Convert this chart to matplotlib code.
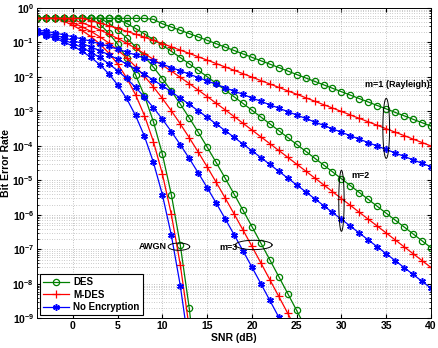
import matplotlib
matplotlib.use("Agg")
import matplotlib.pyplot as plt
import numpy as np
from matplotlib.ticker import FixedLocator, NullFormatter

plt.rcParams['font.family'] = ['Liberation Sans', 'DejaVu Sans']
plt.rcParams['font.weight'] = 'bold'
plt.rcParams['mathtext.fontset'] = 'custom'
plt.rcParams['mathtext.rm'] = 'Liberation Sans:bold'
plt.rcParams['mathtext.bf'] = 'Liberation Sans:bold'
plt.rcParams['mathtext.default'] = 'bf'

# ---- data ----
snr_awgn = list(range(-4, 15))
noenc_awgn = [0.186, 0.158, 0.131, 0.104, 0.0786, 0.0563, 0.0375, 0.0229, 0.0125, 5.95e-3,
              2.39e-3, 7.73e-4, 1.91e-4, 3.36e-5, 3.87e-6, 2.61e-7, 9.0e-9, 1.33e-10, 6.8e-13]
mdes_awgn = [0.5, 0.5, 0.5, 0.415, 0.314, 0.225, 0.150, 0.0916, 0.050, 0.0238,
             9.56e-3, 3.09e-3, 7.64e-4, 1.34e-4, 1.55e-5, 1.04e-6, 3.6e-8, 5.3e-10, 2.7e-12]
des_awgn = [0.5, 0.5, 0.5, 0.5, 0.5, 0.5, 0.5, 0.344, 0.188, 0.0893,
            0.0359, 0.0116, 2.87e-3, 5.04e-4, 5.8e-5, 3.9e-6, 1.35e-7, 2.0e-9, 1.0e-11]

snr_m3 = list(range(-4, 27))
noenc_m3 = [0.197, 0.170, 0.144, 0.118, 0.0938, 0.0718, 0.0527, 0.0368, 0.0244, 0.0153,
            9.05e-3, 5.03e-3, 2.62e-3, 1.29e-3, 5.97e-4, 2.62e-4, 1.09e-4, 4.36e-5, 1.67e-5,
            6.20e-6, 2.24e-6, 7.86e-7, 2.71e-7, 9.21e-8, 3.07e-8, 1.02e-8, 3.33e-9, 1.09e-9,
            3.51e-10, 1.13e-10, 3.6e-11]
mdes_m3 = [0.5, 0.5, 0.5, 0.472, 0.375, 0.287, 0.211, 0.147, 0.0978, 0.0613,
           0.0362, 0.0201, 0.0105, 5.15e-3, 2.39e-3, 1.05e-3, 4.37e-4, 1.74e-4, 6.69e-5,
           2.48e-5, 8.94e-6, 3.14e-6, 1.08e-6, 3.68e-7, 1.23e-7, 4.07e-8, 1.33e-8, 4.34e-9,
           1.41e-9, 4.5e-10, 1.45e-10]
des_m3 = [0.5, 0.5, 0.5, 0.5, 0.5, 0.5, 0.5, 0.5, 0.367, 0.230,
          0.136, 0.0754, 0.0394, 0.0193, 8.95e-3, 3.93e-3, 1.64e-3, 6.54e-4, 2.51e-4,
          9.30e-5, 3.35e-5, 1.18e-5, 4.07e-6, 1.38e-6, 4.61e-7, 1.53e-7, 5.0e-8, 1.63e-8,
          5.27e-9, 1.70e-9, 5.4e-10]

snr_m2 = list(range(-4, 41))
noenc_m2 = [0.211, 0.187, 0.162, 0.138, 0.115, 0.0939, 0.0748, 0.0582, 0.0442, 0.0329,
            0.0239, 0.0170, 0.0119, 8.16e-3, 5.53e-3, 3.70e-3, 2.45e-3, 1.61e-3, 1.05e-3,
            6.77e-4, 4.36e-4, 2.80e-4, 1.79e-4, 1.14e-4, 7.26e-5, 4.61e-5, 2.92e-5, 1.85e-5,
            1.17e-5, 7.42e-6, 4.69e-6, 2.97e-6, 1.87e-6, 1.18e-6, 7.48e-7, 4.72e-7, 2.98e-7,
            1.88e-7, 1.19e-7, 7.49e-8, 4.73e-8, 2.98e-8, 1.88e-8, 1.19e-8, 7.50e-9]
mdes_m2 = [0.5, 0.5, 0.5, 0.5, 0.460, 0.376, 0.299, 0.233, 0.177, 0.131,
           0.0955, 0.0680, 0.0475, 0.0326, 0.0221, 0.0148, 9.79e-3, 6.42e-3, 4.18e-3,
           2.71e-3, 1.74e-3, 1.12e-3, 7.15e-4, 4.56e-4, 2.90e-4, 1.84e-4, 1.17e-4, 7.41e-5,
           4.69e-5, 2.97e-5, 1.88e-5, 1.19e-5, 7.50e-6, 4.73e-6, 2.99e-6, 1.89e-6, 1.19e-6,
           7.52e-7, 4.75e-7, 3.00e-7, 1.89e-7, 1.19e-7, 7.53e-8, 4.75e-8, 3.0e-8]
des_m2 = [0.5, 0.5, 0.5, 0.5, 0.5, 0.5, 0.5, 0.5, 0.5, 0.49,
          0.358, 0.255, 0.178, 0.122, 0.0829, 0.0555, 0.0367, 0.0241, 0.0157,
          0.0102, 6.54e-3, 4.20e-3, 2.68e-3, 1.71e-3, 1.09e-3, 6.91e-4, 4.39e-4, 2.78e-4,
          1.76e-4, 1.11e-4, 7.04e-5, 4.45e-5, 2.81e-5, 1.78e-5, 1.12e-5, 7.08e-6, 4.47e-6,
          2.82e-6, 1.78e-6, 1.12e-6, 7.09e-7, 4.48e-7, 2.82e-7, 1.78e-7, 1.12e-7]

snr_m1 = list(range(-4, 41))
noenc_m1 = [0.233, 0.211, 0.189, 0.167, 0.146, 0.127, 0.109, 0.0919, 0.0771, 0.0642,
            0.0530, 0.0435, 0.0355, 0.0288, 0.0233, 0.0188, 0.0151, 0.0121, 9.66e-3,
            7.72e-3, 6.16e-3, 4.91e-3, 3.92e-3, 3.12e-3, 2.48e-3, 1.97e-3, 1.57e-3, 1.25e-3,
            9.92e-4, 7.89e-4, 6.27e-4, 4.98e-4, 3.96e-4, 3.14e-4, 2.50e-4, 1.98e-4, 1.58e-4,
            1.25e-4, 9.95e-5, 7.90e-5, 6.28e-5, 4.99e-5, 3.96e-5, 3.15e-5, 2.50e-5]
mdes_m1 = [0.5, 0.5, 0.5, 0.5, 0.5, 0.5, 0.434, 0.368, 0.308, 0.257,
           0.212, 0.174, 0.142, 0.115, 0.0932, 0.0750, 0.0603, 0.0483, 0.0386,
           0.0309, 0.0246, 0.0196, 0.0157, 0.0125, 9.92e-3, 7.88e-3, 6.28e-3, 5.0e-3,
           3.97e-3, 3.16e-3, 2.51e-3, 1.99e-3, 1.58e-3, 1.26e-3, 1.0e-3, 7.94e-4, 6.30e-4,
           5.01e-4, 3.98e-4, 3.16e-4, 2.51e-4, 2.0e-4, 1.58e-4, 1.26e-4, 1.0e-4]
des_m1 = [0.5, 0.5, 0.5, 0.5, 0.5, 0.5, 0.5, 0.5, 0.5, 0.5,
          0.5, 0.5, 0.5, 0.47, 0.349, 0.281, 0.226, 0.181, 0.145,
          0.116, 0.0924, 0.0737, 0.0588, 0.0468, 0.0372, 0.0296, 0.0236, 0.0188,
          0.0149, 0.0118, 9.4e-3, 7.47e-3, 5.94e-3, 4.71e-3, 3.75e-3, 2.98e-3, 2.36e-3,
          1.88e-3, 1.49e-3, 1.19e-3, 9.42e-4, 7.49e-4, 5.94e-4, 4.73e-4, 3.75e-4]

legend_labels = ['DES', 'M-DES', 'No Encryption']
x_ticks = [0, 5, 10, 15, 20, 25, 30, 35, 40]
y_exponents = [-9, -8, -7, -6, -5, -4, -3, -2, -1, 0]

# annotations: text, text position (dB, BER), alignment
notes = [('AWGN', 10.5, 1.2e-7, 'right'),
         ('m=3', 18.4, 1.15e-7, 'right'),
         ('m=2', 31.1, 1.35e-5, 'left'),
         ('m=1 (Rayleigh)', 39.9, 5.9e-3, 'right')]
# ellipses: centre dB, centre log10(BER), width dB, height decades
ellipses = [(11.85, -6.92, 2.4, 0.21),
            (20.2, -6.87, 4.1, 0.27),
            (30.0, -5.59, 0.6, 1.77),
            (35.0, -3.49, 0.75, 1.74)]

GREEN = '#008000'
RED = '#ff0000'
BLUE = '#0000ff'

fig = plt.figure(figsize=(4.38, 3.48), dpi=100)
ax = fig.add_axes([0.0845, 0.085, 0.8995, 0.892])

groups = [(snr_awgn, des_awgn, mdes_awgn, noenc_awgn),
          (snr_m3, des_m3, mdes_m3, noenc_m3),
          (snr_m2, des_m2, mdes_m2, noenc_m2),
          (snr_m1, des_m1, mdes_m1, noenc_m1)]

for i, (snr, des, mdes, ne) in enumerate(groups):
    ax.plot(snr, des, color=GREEN, marker='o', mfc='none', ms=4.5, mew=0.9, lw=0.9,
            label=legend_labels[0] if i == 0 else None)
    ax.plot(snr, mdes, color=RED, marker='+', ms=5.5, mew=0.9, lw=0.9,
            label=legend_labels[1] if i == 0 else None)
    ax.plot(snr, ne, color=BLUE, marker=(6, 2, 0), ms=4.8, mew=1.1, lw=0.9,
            label=legend_labels[2] if i == 0 else None)

t = np.linspace(0, 2 * np.pi, 120)
for cx, cy, w, h in ellipses:
    ax.plot(cx + w / 2 * np.cos(t), 10 ** (cy + h / 2 * np.sin(t)), color='k', lw=0.7)

for txt, x, y, ha in notes:
    ax.text(x, y, txt, ha=ha, va='center', fontsize=6.5, fontweight='bold')

ax.set_yscale('log')
ax.set_xlim(-4, 40)
ax.set_ylim(1e-9, 1)
ax.set_xticks(x_ticks)
ax.yaxis.set_major_locator(FixedLocator([10.0 ** e for e in y_exponents]))
ax.set_yticklabels(['$10^{%d}$' % e for e in y_exponents])
minor = [m * 10.0 ** e for e in y_exponents[:-1] for m in range(2, 10)]
ax.yaxis.set_minor_locator(FixedLocator(minor))
ax.yaxis.set_minor_formatter(NullFormatter())

ax.grid(True, which='major', color='#8a8a8a', ls=(0, (1, 2.5)), lw=0.5)
ax.grid(True, which='minor', axis='y', color='#9a9a9a', ls=(0, (1, 2.5)), lw=0.5)
ax.tick_params(which='both', direction='in', top=True, right=True, labelsize=7.5, pad=2)
ax.tick_params(which='major', length=3)
ax.tick_params(which='minor', length=1.5)
for s in ax.spines.values():
    s.set_linewidth(0.7)

ax.set_xlabel('SNR (dB)', fontsize=7.5, fontweight='bold', labelpad=1)
ax.set_ylabel('Bit Error Rate', fontsize=7.5, fontweight='bold', labelpad=1)

leg = ax.legend(loc='lower left', fontsize=7, fancybox=False, framealpha=1,
                edgecolor='k', borderaxespad=0.35, handlelength=2.6,
                borderpad=0.3, labelspacing=0.25, handletextpad=0.5)
leg.get_frame().set_linewidth(0.8)

fig.savefig('out.png', dpi=100)
